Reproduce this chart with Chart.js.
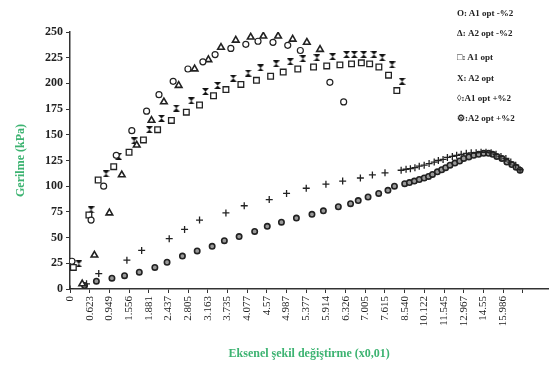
<!DOCTYPE html>
<html>
<head>
<meta charset="utf-8">
<script src="https://cdn.jsdelivr.net/npm/chart.js@4.4.1/dist/chart.umd.min.js"></script>
<style>
  body { margin: 0; background: #fff; }
  #wrap { position: relative; width: 554px; height: 376px; }
  .lg { position: absolute; left: 457px; font: bold 9px "Liberation Serif", serif; color: #222; white-space: nowrap; }
</style>
</head>
<body>
<div id="wrap">
  <canvas id="c" width="554" height="376"></canvas>
  <div class="lg" style="top:8px">O: A1 opt -%2</div>
  <div class="lg" style="top:28px">Δ: A2 opt -%2</div>
  <div class="lg" style="top:52px">□: A1 opt</div>
  <div class="lg" style="top:73px">X: A2 opt</div>
  <div class="lg" style="top:93px">◊:A1 opt +%2</div>
  <div class="lg" style="top:113px">⚙:A2 opt +%2</div>
</div>
<script>
// x positions are in tick-label slots (0 = first label "0")
const tickLabels = ['0','0.623','0.949','1.556','1.881','2.437','2.805','3.163','3.735','4.077','4.57',
  '4.987','5.377','5.914','6.326','7.005','7.615','8.540','10.122','11.545','12.967','14.55','15.986'];

const a1Minus = [[0.1,27],[1.07,67],[1.71,100],[2.35,130],[3.14,154],[3.89,173],[4.52,189],[5.24,202],
  [5.99,214],[6.75,221],[7.37,228],[8.17,234],[8.93,238],[9.55,241],[10.31,240],[11.06,237],[11.7,232],
  [13.2,201],[13.9,182]];

const a2Minus = [[0.62,5],[1.24,33],[2.0,74],[2.63,111],[3.39,140],[4.14,164],[4.77,182],[5.52,198],
  [6.33,214],[7.03,223],[7.67,235],[8.42,242],[9.18,245],[9.82,246],[10.57,246],[11.31,243],[12.03,240],
  [12.7,233]];

const a1Opt = [[0.17,21],[0.96,72],[1.43,106],[2.22,119],[3.0,133],[3.73,145],[4.45,155],[5.15,164],
  [5.91,172],[6.58,179],[7.29,188],[7.92,194],[8.68,199],[9.47,203],[10.19,207],[10.83,211],[11.57,214],
  [12.37,216],[13.04,217],[13.71,218],[14.3,219],[14.8,220],[15.22,219],[15.69,216],[16.18,208],[16.6,193]];

const a2Opt = [[0.45,24.5],[1.07,77],[1.83,112],[2.47,129],[3.26,144],[4.03,155],[4.65,166],[5.4,176],
  [6.16,183],[6.88,192],[7.5,198],[8.29,205],[9.05,210],[9.68,215],[10.47,219],[11.19,221],[11.83,224],
  [12.54,225],[13.34,226],[14.05,228],[14.44,228],[14.92,228],[15.44,228],[15.86,225],[16.36,218],[16.87,202]];

const a1Plus = [[0,0],[0.84,5],[1.46,15],[2.89,28],[3.64,37.5],[5.04,49],[5.82,58],[6.58,67],[7.92,74],
  [8.85,81],[10.12,87],[11.0,93],[12.0,98],[13.0,102],[13.85,105],[14.75,108],[15.36,111],[16.0,113],
  [16.82,115.5],[17.07,116.5],[17.29,117],[17.52,118],[17.74,119.5],[17.99,120.5],[18.24,122],[18.5,123.5],
  [18.71,125],[18.95,126],[19.17,128],[19.42,129],[19.64,130],[19.87,131],[20.13,132],[20.38,132.5],
  [20.63,132.5],[20.88,133],[21.13,133],[21.39,132.5],[21.64,131],[21.89,129],[22.14,127],[22.39,123.5],
  [22.64,120.5],[22.86,116]];

const a2Plus = [[0.74,3.4],[1.34,7.6],[2.13,10.5],[2.77,13],[3.52,16.4],[4.31,21],[4.93,26],[5.71,32],
  [6.46,37],[7.22,41.5],[7.84,47],[8.59,51],[9.38,56],[10.02,61],[10.74,65],[11.5,69],[12.29,72.6],
  [12.87,76],[13.63,80],[14.25,83],[14.64,86],[15.14,89.5],[15.68,93],[16.15,96],[16.48,100],
  [17.0,102.5],[17.24,103.5],[17.49,105],[17.74,106.5],[17.99,108],[18.21,109.5],[18.41,111.5],[18.66,114],
  [18.88,116],[19.08,118],[19.3,120.5],[19.55,122.5],[19.79,124.5],[20.0,127],[20.26,128.5],[20.51,130],
  [20.76,131],[21.01,132],[21.26,132],[21.47,131],[21.68,129],[21.94,127],[22.19,123.5],[22.44,121],
  [22.66,118.5],[22.86,115.5]];

const green = 'rgb(60,179,113)';
const serif = '"Liberation Serif", "Times New Roman", serif';

function hourglass() {
  const c = document.createElement('canvas');
  c.width = 7; c.height = 7;
  const g = c.getContext('2d');
  g.fillStyle = '#111';
  g.beginPath();
  g.moveTo(0, 0); g.lineTo(7, 0); g.lineTo(3.5, 3.5);
  g.lineTo(7, 7); g.lineTo(0, 7); g.lineTo(3.5, 3.5);
  g.closePath();
  g.fill();
  return c;
}

const pts = arr => arr.map(p => ({x: p[0], y: p[1]}));

function chart() {
  const data = {
    datasets: [
      {label: 'A1 opt -%2', data: pts(a1Minus), pointStyle: 'circle', pointRadius: 3,
        borderColor: '#222', backgroundColor: '#fff', borderWidth: 1.2},
      {label: 'A2 opt -%2', data: pts(a2Minus), pointStyle: 'triangle', pointRadius: 3.8,
        borderColor: '#222', backgroundColor: '#fff', borderWidth: 1.6},
      {label: 'A1 opt', data: pts(a1Opt), pointStyle: 'rect', pointRadius: 4,
        borderColor: '#222', backgroundColor: '#fff', borderWidth: 1.3},
      {label: 'A2 opt', data: pts(a2Opt), pointStyle: hourglass(), pointRadius: 3.5},
      {label: 'A1 opt +%2', data: pts(a1Plus), pointStyle: 'cross', pointRadius: 3.5,
        borderColor: '#222', borderWidth: 1.3},
      {label: 'A2 opt +%2', data: pts(a2Plus), pointStyle: 'circle', pointRadius: 2.7,
        borderColor: '#222', backgroundColor: '#999', borderWidth: 1.6}
    ]
  };

  const config = {
    type: 'scatter',
    data,
    options: {
      responsive: false,
      animation: false,
      layout: {padding: {left: 10, top: 32, right: 1, bottom: 15}},
      plugins: {legend: {display: false}, tooltip: {enabled: false}},
      scales: {
        x: {
          type: 'linear',
          min: 0,
          max: 24.3,
          afterBuildTicks: s => { s.ticks = s.ticks.filter(t => Number.isInteger(t.value)); },
          afterFit: s => { s.height = 72; },
          border: {display: true, color: '#333', width: 1.5},
          grid: {drawOnChartArea: false, drawTicks: true, tickLength: 4, color: '#333'},
          ticks: {
            stepSize: 1,
            autoSkip: false,
            maxRotation: 90,
            minRotation: 90,
            padding: 3,
            color: '#222',
            font: {family: serif, size: 11},
            callback: v => tickLabels[v] ?? ''
          },
          title: {display: true, text: 'Eksenel şekil değiştirme (x0,01)', color: green,
            font: {family: serif, size: 12, weight: 'bold'}, padding: {top: 20, bottom: 0}}
        },
        y: {
          min: 0,
          max: 250,
          afterFit: s => { s.width = 60; },
          border: {display: true, color: '#333', width: 1.5},
          grid: {drawOnChartArea: false, drawTicks: true, tickLength: 4, color: '#333'},
          ticks: {stepSize: 25, padding: 3, color: '#222',
            font: {family: serif, size: 12, weight: 'bold'}},
          title: {display: true, text: 'Gerilme (kPa)', color: green,
            font: {family: serif, size: 12, weight: 'bold'}, padding: {top: 4, bottom: 4}}
        }
      }
    }
  };

  new Chart(document.getElementById('c'), config);
}
window.addEventListener('load', chart);
</script>
</body>
</html>
